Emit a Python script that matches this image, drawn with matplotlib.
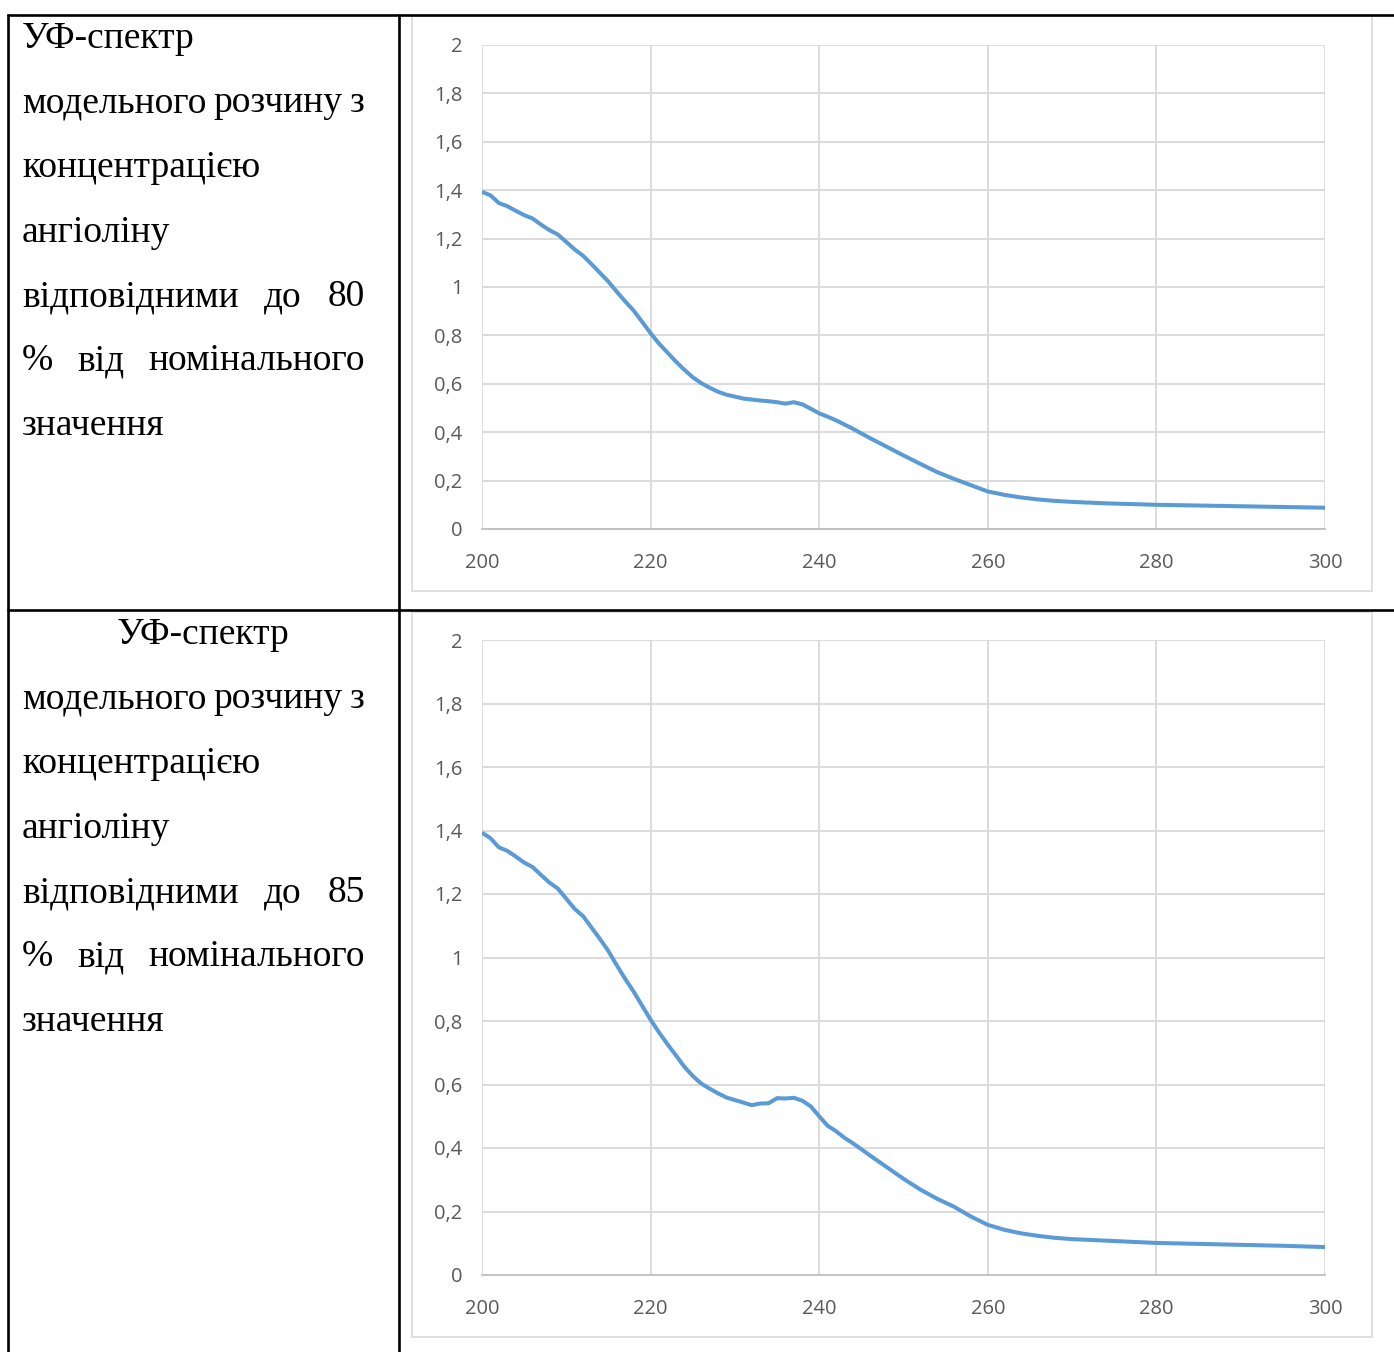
import matplotlib
matplotlib.use("Agg")
import matplotlib.pyplot as plt
from matplotlib.lines import Line2D
from matplotlib.patches import Rectangle

# ---------------- data ----------------
wl_1 = [200, 201, 202, 203, 204, 205, 206, 207, 208, 209, 210, 211, 212, 213, 214, 215,
        216, 217, 218, 219, 220, 221, 222, 223, 224, 225, 226, 227, 228, 229, 230, 231,
        232, 233, 234, 235, 236, 237, 238, 239, 240, 241, 242, 244, 246, 248, 250, 252,
        254, 256, 258, 260, 262, 264, 266, 268, 270, 274, 280, 285, 290, 295, 300]
abs_1 = [1.393, 1.379, 1.347, 1.334, 1.315, 1.297, 1.283, 1.258, 1.235, 1.217, 1.186,
         1.155, 1.129, 1.094, 1.058, 1.022, 0.980, 0.940, 0.902, 0.856, 0.809, 0.766,
         0.729, 0.692, 0.658, 0.627, 0.603, 0.584, 0.567, 0.555, 0.547, 0.539, 0.535,
         0.531, 0.528, 0.524, 0.518, 0.524, 0.515, 0.497, 0.478, 0.464, 0.449, 0.414,
         0.376, 0.340, 0.304, 0.269, 0.235, 0.207, 0.181, 0.155, 0.141, 0.130, 0.122,
         0.116, 0.112, 0.106, 0.100, 0.097, 0.094, 0.091, 0.088]

wl_2 = [200, 201, 202, 203, 204, 205, 206, 207, 208, 209, 210, 211, 212, 213, 214, 215,
        216, 217, 218, 219, 220, 221, 222, 223, 224, 225, 226, 227, 228, 229, 230, 231,
        232, 233, 234, 235, 236, 237, 238, 239, 240, 241, 242, 243, 244, 246, 248, 250,
        252, 254, 256, 258, 260, 262, 264, 266, 268, 270, 275, 280, 285, 290, 295, 300]
abs_2 = [1.393, 1.376, 1.347, 1.336, 1.318, 1.299, 1.285, 1.260, 1.236, 1.217, 1.185,
         1.153, 1.130, 1.094, 1.058, 1.020, 0.975, 0.932, 0.892, 0.848, 0.804, 0.764,
         0.727, 0.692, 0.656, 0.627, 0.603, 0.587, 0.572, 0.559, 0.551, 0.543, 0.535,
         0.540, 0.541, 0.557, 0.556, 0.558, 0.549, 0.531, 0.500, 0.470, 0.453, 0.432,
         0.415, 0.377, 0.340, 0.303, 0.269, 0.240, 0.215, 0.184, 0.158, 0.142, 0.131,
         0.123, 0.117, 0.113, 0.107, 0.101, 0.098, 0.095, 0.092, 0.088]

x_ticks = [200, 220, 240, 260, 280, 300]
y_ticks = [0, 0.2, 0.4, 0.6, 0.8, 1.0, 1.2, 1.4, 1.6, 1.8, 2.0]
y_tick_labels = ["0", "0,2", "0,4", "0,6", "0,8", "1", "1,2", "1,4", "1,6", "1,8", "2"]

row_lines_1 = ["УФ-спектр", "модельного розчину з", "концентрацією", "ангіоліну",
               "відповідними до 80", "% від номінального", "значення"]
row_lines_2 = ["УФ-спектр", "модельного розчину з", "концентрацією", "ангіоліну",
               "відповідними до 85", "% від номінального", "значення"]

# ---------------- layout ----------------
W, H = 1394, 1352
fig = plt.figure(figsize=(W / 100, H / 100), dpi=100)
fig.patch.set_facecolor("white")


def fx(x):
    return x / W


def fy(y):
    return 1 - y / H


def hline(x0, x1, y, color="black", lw=1.9):
    fig.add_artist(Line2D([fx(x0), fx(x1)], [fy(y), fy(y)], color=color, lw=lw,
                          transform=fig.transFigure, solid_capstyle="butt"))


def vline(x, y0, y1, color="black", lw=1.9):
    fig.add_artist(Line2D([fx(x), fx(x)], [fy(y0), fy(y1)], color=color, lw=lw,
                          transform=fig.transFigure, solid_capstyle="butt"))


# table lines
hline(7, W, 14.5)
hline(7, W, 610)
vline(8, 13.5, H)
vline(398.5, 13.5, H)

# chart frames
for (x0, y0, x1, y1) in [(412, 16, 1372, 591), (412, 612, 1372, 1337)]:
    fig.add_artist(Rectangle((fx(x0), fy(y1)), fx(x1) - fx(x0), fy(y0) - fy(y1),
                             transform=fig.transFigure, fill=False,
                             edgecolor="#d9d9d9", lw=1.2))

tick_font = "Open Sans"
grey = "#595959"


def make_axes(top, bottom, wl, ab):
    ax = fig.add_axes([fx(482), fy(bottom), fx(1325) - fx(482), fy(top) - fy(bottom)])
    ax.plot(wl, ab, color="#5b9bd5", lw=2.9, solid_joinstyle="round",
            solid_capstyle="butt", zorder=3)
    ax.set_xlim(200, 300)
    ax.set_ylim(0, 2)
    ax.set_xticks(x_ticks)
    ax.set_xticklabels([str(t) for t in x_ticks])
    ax.set_yticks(y_ticks)
    ax.set_yticklabels(y_tick_labels)
    ax.grid(True, color="#d9d9d9", lw=1.3)
    ax.set_axisbelow(True)
    for s in ["top", "right", "left"]:
        ax.spines[s].set_visible(False)
    ax.spines["bottom"].set_color("#bfbfbf")
    ax.spines["bottom"].set_linewidth(1.3)
    ax.tick_params(length=0, labelsize=14.5, labelcolor=grey)
    ax.tick_params(axis="y", pad=14)
    ax.tick_params(axis="x", pad=17)
    for lab in ax.get_xticklabels() + ax.get_yticklabels():
        lab.set_fontfamily(tick_font)
    return ax


make_axes(45, 529, wl_1, abs_1)
make_axes(640, 1275, wl_2, abs_2)

# ---------------- left column text ----------------
serif = "Liberation Serif"
fsize = 27
left_x, right_x = 22, 365
line_gap = 64.5
renderer = fig.canvas.get_renderer()


def put_line(text, y, mode):
    if mode == "left":
        fig.text(fx(left_x), fy(y), text, family=serif, fontsize=fsize,
                 ha="left", va="baseline")
    elif mode == "center":
        fig.text(fx((8 + 398) / 2), fy(y), text, family=serif, fontsize=fsize,
                 ha="center", va="baseline")
    else:
        words = text.split()
        arts = [fig.text(0, fy(y), w, family=serif, fontsize=fsize,
                         ha="left", va="baseline") for w in words]
        widths = [a.get_window_extent(renderer).width for a in arts]
        gap = (right_x - left_x - sum(widths)) / (len(words) - 1)
        x = left_x
        for a, w in zip(arts, widths):
            a.set_x(fx(x))
            x += w + gap


modes_1 = ["left", "just", "left", "left", "just", "just", "left"]
modes_2 = ["center", "just", "left", "left", "just", "just", "left"]

for i, (t, m) in enumerate(zip(row_lines_1, modes_1)):
    put_line(t, 48 + i * line_gap, m)
for i, (t, m) in enumerate(zip(row_lines_2, modes_2)):
    put_line(t, 644 + i * line_gap, m)

fig.savefig("out.png", dpi=100)
